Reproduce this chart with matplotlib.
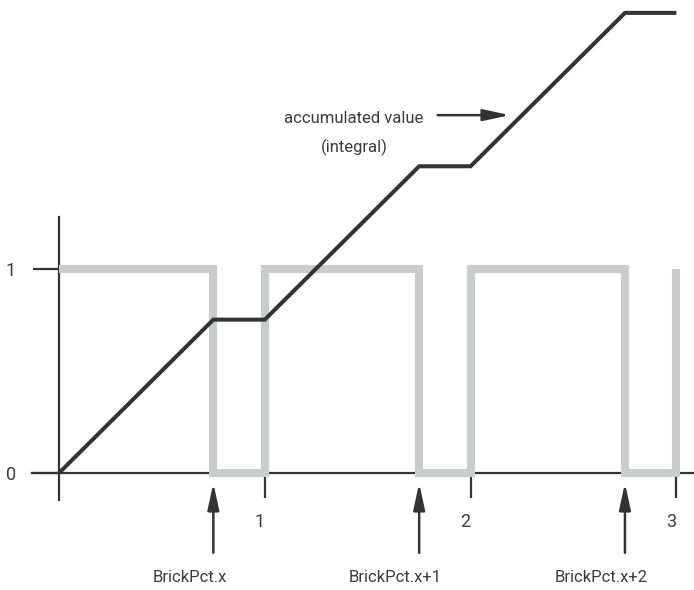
import matplotlib
matplotlib.use("Agg")
import matplotlib.pyplot as plt
from matplotlib.transforms import ScaledTranslation

# ---- data ----
wave_x = [0, 0.75, 0.75, 1, 1, 1.75, 1.75, 2, 2, 2.75, 2.75, 3, 3]
wave_y = [1, 1, 0, 0, 1, 1, 0, 0, 1, 1, 0, 0, 1]
integral_x = [0, 0.75, 1, 1.75, 2, 2.75, 3]
integral_y = [0, 0.75, 0.75, 1.5, 1.5, 2.25, 2.25]
x_ticks = [1, 2, 3]
x_tick_labels = ["1", "2", "3"]
y_ticks = [0, 1]
y_tick_labels = ["0", "1"]
edge_positions = [0.75, 1.75, 2.75]
edge_labels = ["BrickPct.x", "BrickPct.x+1", "BrickPct.x+2"]

FONT = ["Roboto", "DejaVu Sans"]
plt.rcParams["font.family"] = FONT
TXT = "#3c3c3c"
DARK = "#333333"
GRAY = "#cacbcd"
FS = 12

fig = plt.figure(figsize=(6.94, 5.90), dpi=100)
ax = fig.add_axes([0, 0, 1, 1])
ax.set_xlim(-0.2867, 3.0855)
ax.set_ylim(-0.572, 2.313)

# spines as axes through origin
for s in ["top", "right"]:
    ax.spines[s].set_visible(False)
ax.spines["left"].set_position(("data", 0))
ax.spines["bottom"].set_position(("data", 0))
ax.spines["left"].set_bounds(-0.13, 1.25)
ax.spines["bottom"].set_bounds(-0.13, 3.1)
for s in ["left", "bottom"]:
    ax.spines[s].set_color(DARK)
    ax.spines[s].set_linewidth(1.6)
    ax.spines[s].set_zorder(1)

ax.set_xticks(x_ticks)
ax.set_xticklabels(x_tick_labels)
ax.set_yticks(y_ticks)
ax.set_yticklabels(y_tick_labels)
ax.tick_params(axis="x", direction="out", length=18, width=1.6, color=DARK,
               pad=11, labelsize=FS + 1, labelcolor=TXT)
ax.tick_params(axis="y", direction="out", length=19, width=1.6, color=DARK,
               pad=12, labelsize=FS + 1, labelcolor=TXT)
for lab in ax.get_xticklabels():
    lab.set_transform(lab.get_transform() + ScaledTranslation(-5 / 100, 0, fig.dpi_scale_trans))

# square wave
ax.plot(wave_x, wave_y, color=GRAY, lw=5.8, solid_joinstyle="miter",
        solid_capstyle="butt", zorder=2)
# integral
ax.plot(integral_x, integral_y, color=DARK, lw=2.9, solid_joinstyle="miter",
        solid_capstyle="butt", zorder=3)

ARROW = "-|>,head_length=1.6,head_width=0.35"

# arrows at falling edges with labels
for xe, lab in zip(edge_positions, edge_labels):
    ax.annotate("", xy=(xe, -0.05), xytext=(xe, -0.39),
                arrowprops=dict(arrowstyle=ARROW, color=DARK, lw=1.8,
                                shrinkA=0, shrinkB=0))
    ax.annotate(lab, xy=(xe, -0.51), xytext=(-24, 0), textcoords="offset pixels",
                ha="center", va="center", fontsize=FS, color=TXT)

# accumulated value annotation
ax.text(1.43, 1.735, "accumulated value", ha="center", va="center",
        fontsize=FS, color=TXT)
ax.text(1.435, 1.594, "(integral)", ha="center", va="center",
        fontsize=FS, color=TXT)
ax.annotate("", xy=(2.19, 1.75), xytext=(1.84, 1.75),
            arrowprops=dict(arrowstyle=ARROW, color=DARK, lw=1.8,
                            shrinkA=0, shrinkB=0))

fig.savefig("out.png", dpi=100)
